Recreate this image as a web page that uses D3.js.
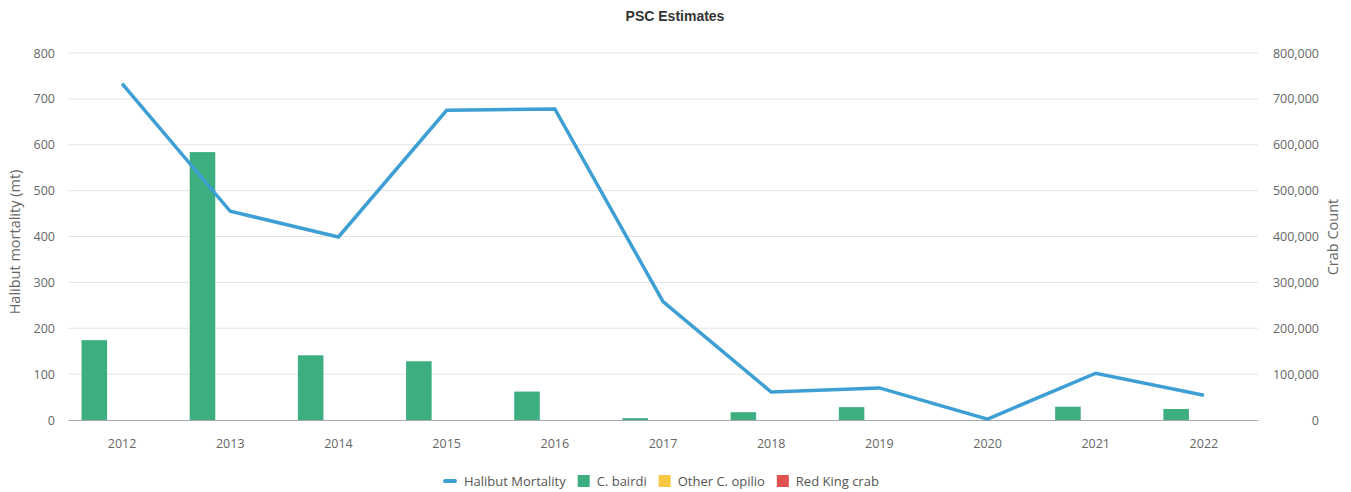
<!DOCTYPE html>
<html>
<head>
<meta charset="utf-8">
<script src="https://cdn.jsdelivr.net/npm/d3@7"></script>
<style>
  body { margin: 0; background: #fff; }
  text { font-family: "Open Sans", "Noto Sans", sans-serif; }
</style>
</head>
<body>
<div id="chart"></div>
<script>
const years = ["2012", "2013", "2014", "2015", "2016", "2017", "2018", "2019", "2020", "2021", "2022"];
const halibutMortality = [733, 455, 399, 675, 678, 258, 61, 70, 2, 102, 54];
const cBairdi = [174000, 584000, 141000, 128000, 62000, 4000, 17000, 28000, 0, 29000, 24000];
const otherOpilio = [0, 0, 0, 0, 0, 0, 0, 0, 0, 0, 0];
const redKingCrab = [0, 0, 0, 0, 0, 0, 0, 0, 0, 0, 0];
const leftTicks = [0, 100, 200, 300, 400, 500, 600, 700, 800];
const rightTicks = [0, 100000, 200000, 300000, 400000, 500000, 600000, 700000, 800000];

const barSeries = [
  { name: "C. bairdi", values: cBairdi, color: "#3dae80" },
  { name: "Other C. opilio", values: otherOpilio, color: "#f7c744" },
  { name: "Red King crab", values: redKingCrab, color: "#e0524f" }
];

const W = 1351, H = 492;
const plotL = 68, plotR = 1258, plotT = 53, plotB = 420;

const svg = d3.select("#chart").append("svg")
  .attr("width", W).attr("height", H);

const x0 = d3.scaleBand().domain(years).range([plotL, plotR]);
const bw = x0.bandwidth();
const x1 = d3.scaleBand().domain(barSeries.map(d => d.name))
  .range([bw * 0.125, bw * 0.875]).paddingInner(0.08);

const yL = d3.scaleLinear().domain([0, 800]).range([plotB, plotT]);
const yR = d3.scaleLinear().domain([0, 800000]).range([plotB, plotT]);

// grid
svg.append("g").selectAll("line").data(leftTicks.slice(1)).join("line")
  .attr("x1", plotL).attr("x2", plotR)
  .attr("y1", d => yL(d)).attr("y2", d => yL(d))
  .attr("stroke", "#e3e3e3").attr("stroke-width", 1);

// left axis
const axL = svg.append("g").attr("transform", `translate(${plotL},0)`)
  .call(d3.axisLeft(yL).tickValues(leftTicks).tickSize(0).tickPadding(13));
axL.select(".domain").remove();
axL.selectAll("text").attr("fill", "#666").style("font-size", "12.5px");

// right axis
const axR = svg.append("g").attr("transform", `translate(${plotR},0)`)
  .call(d3.axisRight(yR).tickValues(rightTicks).tickSize(0).tickPadding(0)
    .tickFormat(d3.format(",")));
axR.select(".domain").remove();
axR.selectAll("text").attr("fill", "#666").style("font-size", "12.5px")
  .attr("text-anchor", "end").attr("x", 61);

// bars
const groups = svg.append("g").selectAll("g").data(barSeries).join("g")
  .attr("fill", d => d.color);
groups.selectAll("rect").data(s => s.values.map((v, i) => ({ s: s.name, v, yr: years[i] })))
  .join("rect")
  .attr("x", d => x0(d.yr) + x1(d.s))
  .attr("width", x1.bandwidth())
  .attr("y", d => yR(d.v))
  .attr("height", d => plotB - yR(d.v));

// x axis
const axX = svg.append("g").attr("transform", `translate(0,${plotB})`)
  .call(d3.axisBottom(x0).tickSize(0).tickPadding(19));
axX.select(".domain").attr("stroke", "#aaa");
axX.selectAll("text").attr("fill", "#666").style("font-size", "12.5px");

// line
const line = d3.line()
  .x((d, i) => x0(years[i]) + bw / 2)
  .y(d => yL(d));
svg.append("path").datum(halibutMortality)
  .attr("fill", "none").attr("stroke", "#3d9fd3").attr("stroke-width", 3.5)
  .attr("stroke-linejoin", "miter")
  .attr("d", line);

// title
svg.append("text").attr("x", 675).attr("y", 21).attr("text-anchor", "middle")
  .style("font-family", "'Liberation Sans', Arial, sans-serif")
  .style("font-size", "14px").style("font-weight", "bold").attr("fill", "#333")
  .text("PSC Estimates");

// axis titles
svg.append("text").attr("transform", "translate(20,242) rotate(-90)")
  .attr("text-anchor", "middle").attr("fill", "#666").style("font-size", "14.5px")
  .text("Halibut mortality (mt)");
svg.append("text").attr("transform", "translate(1338,237) rotate(-90)")
  .attr("text-anchor", "middle").attr("fill", "#666").style("font-size", "14.5px")
  .text("Crab Count");

// legend
const legendItems = [{ name: "Halibut Mortality", color: "#3d9fd3", type: "line" }]
  .concat(barSeries.map(d => ({ name: d.name, color: d.color, type: "rect" })));
const lg = svg.append("g").attr("transform", "translate(443,481)");
let lx = 0;
legendItems.forEach(it => {
  const g = lg.append("g").attr("transform", `translate(${lx},0)`);
  if (it.type === "line") {
    g.append("rect").attr("x", 0).attr("y", -2).attr("width", 14).attr("height", 4)
      .attr("rx", 2).attr("fill", it.color);
  } else {
    g.append("rect").attr("x", 0).attr("y", -6).attr("width", 12).attr("height", 12)
      .attr("fill", it.color);
  }
  const t = g.append("text").attr("x", it.type === "line" ? 21 : 19).attr("y", 4.5)
    .attr("fill", "#555").style("font-size", "13px").text(it.name);
  lx += (it.type === "line" ? 21 : 19) + t.node().getComputedTextLength() + 12;
});
</script>
</body>
</html>
